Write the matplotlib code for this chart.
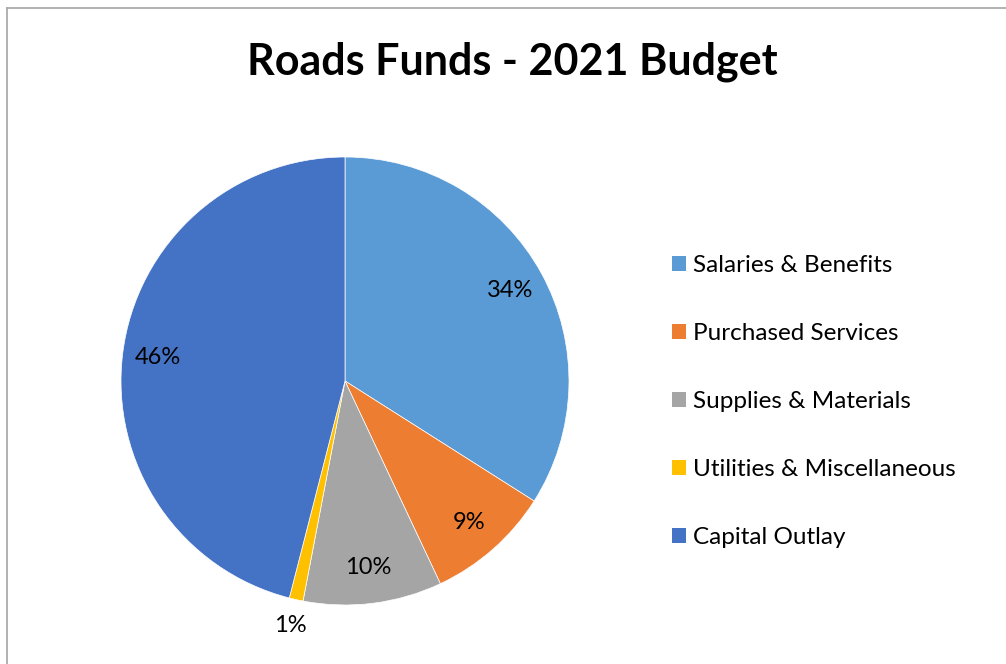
import matplotlib
matplotlib.use("Agg")
import matplotlib.pyplot as plt
import numpy as np
from matplotlib.lines import Line2D
from matplotlib.patches import Patch

categories = ["Salaries & Benefits", "Purchased Services", "Supplies & Materials",
              "Utilities & Miscellaneous", "Capital Outlay"]
values = [34, 9, 10, 1, 46]
colors = ["#5B9BD5", "#ED7D31", "#A5A5A5", "#FFC000", "#4472C4"]
title = "Roads Funds - 2021 Budget"

W, H = 1006, 664
fig = plt.figure(figsize=(W / 100, H / 100), dpi=100)
fig.patch.set_facecolor("white")

font = ["Lato", "DejaVu Sans"]

# border (left and top visible)
fig.add_artist(Line2D([7 / W, 7 / W], [0, 1 - 7.5 / H], transform=fig.transFigure,
                      color="#ABABAB", lw=1.3))
fig.add_artist(Line2D([7 / W, 1], [1 - 7.5 / H, 1 - 7.5 / H], transform=fig.transFigure,
                      color="#ABABAB", lw=1.3))

cx, cy, r = 345, 381, 224
ax = fig.add_axes([(cx - r) / W, (H - cy - r) / H, 2 * r / W, 2 * r / H])
wedges, texts, autotexts = ax.pie(values, colors=colors, startangle=90, counterclock=False,
                                  autopct="%1.0f%%", pctdistance=0.84,
                                  wedgeprops=dict(linewidth=0.5, edgecolor="white"),
                                  textprops=dict(fontsize=17, family=font, color="#000000"))
ax.set_xlim(-1, 1)
ax.set_ylim(-1, 1)
ax.set_aspect("auto")

# move small-slice label outside
for w, t, v in zip(wedges, autotexts, values):
    if v < 3:
        ang = np.deg2rad((w.theta1 + w.theta2) / 2)
        t.set_position((1.12 * np.cos(ang), 1.12 * np.sin(ang)))

fig.text(512 / W, 1 - 62 / H, title, ha="center", va="center", fontsize=31,
         fontweight="bold", family=font)

handles = [Patch(facecolor=c, edgecolor="none") for c in colors]
leg = fig.legend(handles, categories, loc="upper left", bbox_to_anchor=(660 / W, 1 - 243 / H),
                 frameon=False, prop=dict(family=font, size=17.5), handlelength=0.55,
                 handleheight=0.55, handletextpad=0.3, labelspacing=1.93, borderpad=0)

fig.savefig("out.png", dpi=100, facecolor="white")
